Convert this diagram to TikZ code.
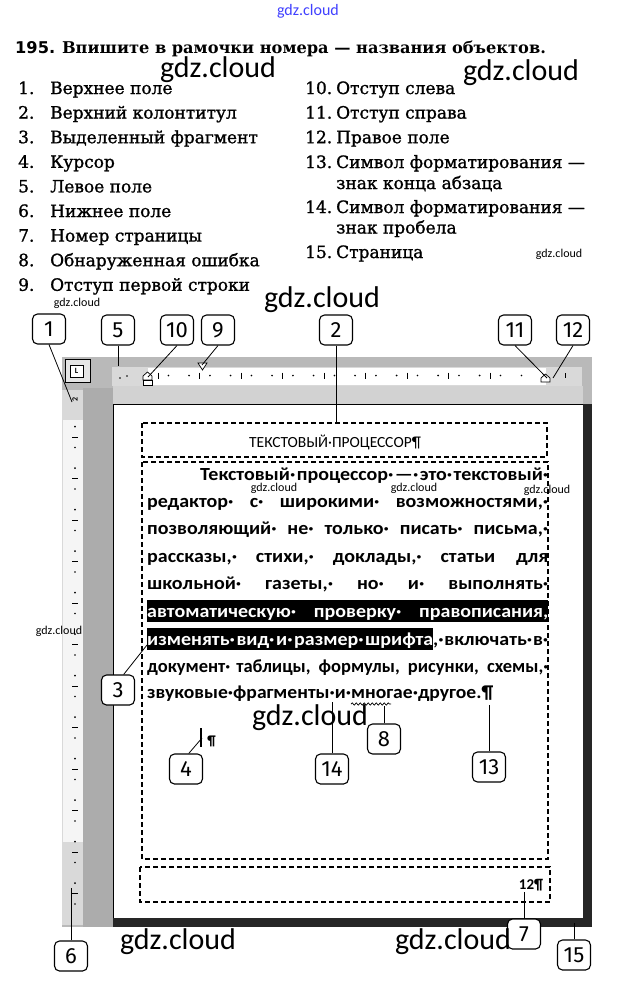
\documentclass[tikz,border=0pt]{standalone}
\usepackage{fontspec}
\setmainfont{DejaVu Serif}
\newfontfamily\listfont{DejaVu Serif}[FakeBold=1.2]
\newfontfamily\numsans{DejaVu Sans}
\newfontfamily\bodyfont{Carlito}
\newfontfamily\bodywide{Carlito}[FakeStretch=1.08]
\newfontfamily\handfont{Fira Sans}
\usetikzlibrary{decorations.pathmorphing}
\setlength{\fboxsep}{0pt}
\newcommand\gs{·\hspace{0pt plus 1fil}}
\newcommand\gap{\hspace{2pt plus 1fil}}
\tikzset{
  callout/.style={draw, fill=white, line width=1.1pt, rounded corners=5pt, minimum width=33pt, minimum height=30pt, inner sep=0pt, font=\handfont\fontsize{22}{22}\selectfont},
  lead/.style={line width=0.8pt},
  item/.style={anchor=base west, inner sep=0pt, font=\listfont\fontsize{17}{17}\selectfont},
  wmbig/.style={inner sep=0pt, font=\bodyfont\fontsize{30}{30}\selectfont},
  wmsmall/.style={inner sep=0pt, font=\bodyfont\fontsize{12}{12}\selectfont},
  bline/.style={anchor=base west, inner sep=0pt, font=\bodywide\bfseries\fontsize{18.5}{18.5}\selectfont},
  nline/.style={anchor=base west, inner sep=0pt, font=\bodyfont\bfseries\fontsize{18.5}{18.5}\selectfont},
  dbox/.style={draw, line width=1.3pt, dash pattern=on 5pt off 3pt},
  tk/.style={line width=0.8pt},
}
\begin{document}
\begin{tikzpicture}[x=1pt,y=-1pt]
\useasboundingbox (0,0) rectangle (616,985);
\fill[white] (0,0) rectangle (616,985);

% ---------- title and list ----------
\node (title) [anchor=base west, inner sep=0pt, font=\fontsize{16.2}{16.2}\selectfont] at (15,53) {{\numsans\bfseries 195.} \bfseries Впишите в рамочки номера — названия объектов.};

\foreach \n/\t [count=\i from 0] in {1/Верхнее поле, 2/Верхний колонтитул, 3/Выделенный фрагмент, 4/Курсор, 5/Левое поле, 6/Нижнее поле, 7/Номер страницы, 8/Обнаруженная ошибка, 9/Отступ первой строки}{
  \node (ln\n) [item] at (18,94+24.6*\i) {\n.};
  \node (lt\n) [item] at (50,94+24.6*\i) {\t};
}
\node (rn10) [item] at (305,94) {10.};
\node (rt10) [item] at (336,94) {Отступ слева};
\node (rn11) [item] at (305,118.6) {11.};
\node (rt11) [item] at (336,118.6) {Отступ справа};
\node (rn12) [item] at (305,143.2) {12.};
\node (rt12) [item] at (336,143.2) {Правое поле};
\node (rn13) [item] at (305,168) {13.};
\node (rt13) [item] at (336,168) {Символ форматирования —};
\node (rt13b) [item] at (336,189) {знак конца абзаца};
\node (rn14) [item] at (305,213) {14.};
\node (rt14) [item] at (336,213) {Символ форматирования —};
\node (rt14b) [item] at (336,233.5) {знак пробела};
\node (rn15) [item] at (305,258) {15.};
\node (rt15) [item] at (336,258) {Страница};

% ---------- window background ----------
\fill[gray!55] (62,357) rectangle (592,927);
\fill[gray!65] (83,388) rectangle (113,927);
\fill[gray!35] (113,386) rectangle (583,404);
% horizontal ruler
\fill[gray!30] (112,367) rectangle (582,386);
\fill[white] (148,368) rectangle (546,385);
% vertical ruler
\fill[gray!30] (62,390) rectangle (83,925);
\fill[gray!8] (63,420) rectangle (83,842);
% L box
\draw[line width=0.8pt, fill=gray!20] (65,359) rectangle (90,382);
\draw[line width=1pt, fill=white] (70,365) rectangle (83,377);
\node (Lsym) [inner sep=0pt, font=\bodyfont\bfseries\fontsize{8}{8}\selectfont] at (76.5,371) {L};

% horizontal ruler ticks
\foreach \x in {158,199.5,241,282.5,324,365.5,407,448.5,490}{
  \draw[tk] (\x,372.5) -- (\x,378.5);
  \fill (\x-10.4,375.5) circle (0.9pt);
  \fill (\x+10.4,375.5) circle (0.9pt);
}
\fill (521.5,375.5) circle (0.9pt);
\fill (127,376) circle (0.8pt);
\fill (120,378) circle (0.8pt);
\draw[tk] (565,373) -- (565,378);
% vertical ruler ticks
\node (r2) [inner sep=0pt, rotate=90, font=\bodyfont\bfseries\fontsize{8}{8}\selectfont] at (75,399) {2};
\foreach \y in {437,478.5,...,894}{
  \draw[tk] (72,\y) -- (78,\y);
  \fill (75,\y-10.4) circle (0.9pt);
  \fill (75,\y+10.4) circle (0.9pt);
}

% indent markers
\draw[line width=0.7pt, fill=white] (143,380) -- (143,376) -- (147.5,372) -- (152,376) -- (152,380) -- cycle;
\draw[line width=0.7pt, fill=white] (143,380) rectangle (152,385.5);
\draw[line width=0.7pt, fill=white] (198,363) -- (207,363) -- (202.5,370) -- cycle;
\draw[line width=0.7pt, fill=white] (541,382) -- (541,378) -- (545.5,374) -- (550,378) -- (550,382) -- cycle;

% page
\fill[white] (113,404) rectangle (583,918);
\draw[line width=0.8pt] (113,918) -- (113,404) -- (583,404);
\fill[black!85] (583,404) rectangle (592,927);
\fill[black!85] (113,918) rectangle (592,927);

% dashed areas
\draw[dbox] (142,423) rectangle (547,457);
\draw[dbox] (142,462) rectangle (548,859);
\draw[dbox] (140,867) rectangle (550,902);

% header
\node (hdr) [anchor=base, inner sep=0pt, font=\bodyfont\fontsize{15.5}{15.5}\selectfont] at (335,447) {ТЕКСТОВЫЙ·ПРОЦЕССОР¶};

% body text
\node (l1) [bline] at (200,480) {\makebox[348pt][s]{Текстовый\gs процессор\gs —\gs это\gs текстовый·}};
\node (l2) [bline] at (147,507.5) {\makebox[401pt][s]{редактор\gs с\gs широкими\gs возможностями,·}};
\node (l3) [bline] at (147,534.5) {\makebox[401pt][s]{позволяющий\gs не\gs только\gs писать\gs письма,·}};
\node (l4) [bline] at (147,562.5) {\makebox[401pt][s]{рассказы,\gs стихи,\gs доклады,\gs статьи\gap для}};
\node (l5) [bline] at (147,589) {\makebox[401pt][s]{школьной\gs газеты,\gs но\gs и\gs выполнять·}};
\node (l6) [bline] at (147,617) {\colorbox{black}{\rule[-5pt]{0pt}{22pt}\makebox[401pt][s]{\color{white}автоматическую\gs проверку\gs правописания,}}};
\node (l7) [bline] at (147,645) {\colorbox{black}{\rule[-5pt]{0pt}{22pt}\makebox[286pt][s]{\color{white}изменять\gs вид\gs и\gs размер\gs шрифта}}\makebox[115pt][s]{,\gs включать\gs в·}};
\node (l8) [nline] at (147,672) {\makebox[401pt][s]{документ\gs таблицы,\gap формулы,\gap рисунки,\gap схемы,·}};
\node (l9) [nline] at (147,698) {\resizebox{346pt}{\height}{звуковые·фрагменты·и·многае·другое.¶}};
\draw[line width=0.7pt, decorate, decoration={snake, amplitude=1.1pt, segment length=4pt}] (351,704) -- (391,704);

% cursor
\draw[line width=1.4pt] (201,728) -- (201,747);
\node (pil) [inner sep=0pt, font=\bodyfont\bfseries\fontsize{14}{14}\selectfont] at (211.5,741) {¶};
% page number
\node (pg) [inner sep=0pt, font=\bodyfont\bfseries\fontsize{15}{15}\selectfont] at (531,885) {12¶};

% ---------- callouts ----------
\node (b1) [callout] at (49,329) {1};
\node (b5) [callout] at (118,330) {5};
\node (b10) [callout] at (177,330) {10};
\node (b9) [callout] at (218,330) {9};
\node (b2) [callout] at (336,330) {2};
\node (b11) [callout] at (515,330) {11};
\node (b12) [callout] at (573,330) {12};
\node (b3) [callout] at (118,690) {3};
\node (b4) [callout] at (186,769) {4};
\node (b14) [callout] at (332,769) {14};
\node (b8) [callout] at (384,739) {8};
\node (b13) [callout] at (489,767) {13};
\node (b6) [callout] at (71,956) {6};
\node (b7) [callout] at (524,934) {7};
\node (b15) [callout] at (574,955) {15};

\coordinate (t1) at (72,402);
\coordinate (t5) at (118,366);
\coordinate (t10) at (148,377);
\coordinate (t9) at (202,365);
\coordinate (t2) at (336,423);
\coordinate (t11) at (547,378);
\coordinate (t12) at (553,378);
\coordinate (t3) at (147,645);
\coordinate (t4) at (202,738);
\coordinate (t14) at (332,702);
\coordinate (t8) at (384,706);
\coordinate (t13) at (489,705);
\coordinate (t6) at (71,888);
\coordinate (t7) at (524,892);
\coordinate (t15) at (574,923);

\draw[lead] (b1.south) -- (t1);
\draw[lead] (b5.south) -- (t5);
\draw[lead] (b10.south) -- (t10);
\draw[lead] (b9.south) -- (t9);
\draw[lead] (b2.south) -- (t2);
\draw[lead] (b11.south) -- (t11);
\draw[lead] (b12.south) -- (t12);
\draw[lead] (b3.70) -- (t3);
\draw[lead] (b4.80) -- (t4);
\draw[lead] (b14.north) -- (t14);
\draw[lead] (b8.north) -- (t8);
\draw[lead] (b13.north) -- (t13);
\draw[lead] (b6.north) -- (t6);
\draw[lead] (b7.north) -- (t7);
\draw[lead] (b15.north) -- (t15);

% ---------- watermarks ----------
\node (wtop) [inner sep=0pt, text=blue!75, font=\bodyfont\fontsize{16}{16}\selectfont] at (308,11) {gdz.cloud};
\node (w1) [wmbig] at (218,70) {gdz.cloud};
\node (w2) [wmbig] at (521,73) {gdz.cloud};
\node (w3) [wmsmall] at (559,254) {gdz.cloud};
\node (w4) [wmbig] at (322,300) {gdz.cloud};
\node (w5) [wmsmall] at (77,303) {gdz.cloud};
\node (w6) [wmsmall] at (274,488) {gdz.cloud};
\node (w7) [wmsmall] at (414,488) {gdz.cloud};
\node (w8) [wmsmall] at (547,490) {gdz.cloud};
\node (w9) [wmsmall] at (59,631) {gdz.cloud};
\node (w10) [wmbig] at (310,718) {gdz.cloud};
\node (w11) [wmbig] at (178,942) {gdz.cloud};
\node (w12) [wmbig] at (453,942) {gdz.cloud};
\end{tikzpicture}
\end{document}
